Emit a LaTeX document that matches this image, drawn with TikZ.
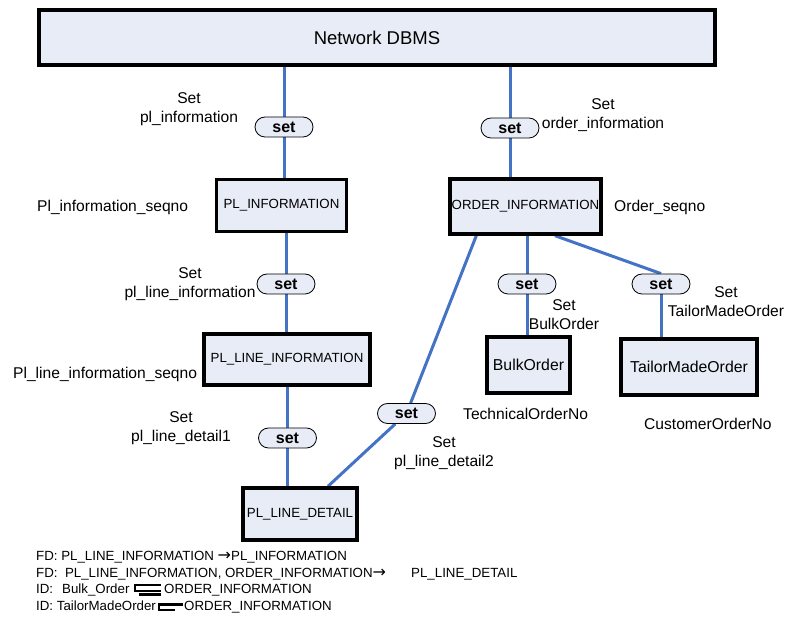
\documentclass[tikz,border=0pt]{standalone}
\usepackage{fontspec}
\setmainfont{Liberation Sans}
\newfontfamily\arrowfont{DejaVu Sans}
\usetikzlibrary{shapes.misc}
\pgfdeclarelayer{bg}
\pgfsetlayers{bg,main}
\definecolor{boxfill}{RGB}{231,236,246}
\definecolor{linkblue}{RGB}{68,114,196}
\begin{document}
\begin{tikzpicture}[x=1pt,y=-1pt,
  entity/.style={draw=black, line width=3.4pt, fill=boxfill, inner sep=0pt, font=\fontsize{13.3}{16}\selectfont},
  bigentity/.style={entity, font=\fontsize{15.8}{18}\selectfont},
  setnode/.style={rounded rectangle, draw=black, line width=0.8pt, fill=boxfill, minimum width=58pt, minimum height=20pt, inner sep=0pt, font=\bfseries\fontsize{16}{18}\selectfont},
  lbl/.style={align=center, anchor=north, inner sep=0pt, font=\fontsize{15.6}{19}\selectfont},
  slbl/.style={anchor=west, inner sep=0pt, font=\fontsize{15.6}{19}\selectfont},
  note/.style={anchor=base west, inner sep=0pt, font=\fontsize{13.3}{15}\selectfont},
  link/.style={draw=linkblue, line width=3pt},
  idmark/.style={line width=2.4pt}]
\useasboundingbox (0,0) rectangle (788,617);

% entities
\node[entity, minimum width=676pt, minimum height=55pt, font=\fontsize{18.5}{21}\selectfont] (dbms) at (377,37.5) {Network DBMS};
\node[entity, minimum width=130pt, minimum height=52pt] (plinfo) at (281.5,205.5) {PL\_INFORMATION};
\node[entity, minimum width=151pt, minimum height=55pt] (order) at (525.5,206.5) {ORDER\_INFORMATION};
\node[entity, minimum width=166pt, minimum height=51pt] (plline) at (287,359.5) {PL\_LINE\_INFORMATION};
\node[entity, minimum width=114pt, minimum height=52pt] (pldetail) at (300,514) {PL\_LINE\_DETAIL};
\node[bigentity, minimum width=83pt, minimum height=56pt] (bulk) at (528.5,365) {BulkOrder};
\node[bigentity, minimum width=136pt, minimum height=56pt] (tailor) at (689,367) {TailorMadeOrder};

% set nodes
\node[setnode] (set1) at (284,127) {set};
\node[setnode] (set2) at (510,128) {set};
\node[setnode] (set3) at (286,284) {set};
\node[setnode] (set4) at (287.5,438) {set};
\node[setnode] (set5) at (406.5,413.5) {set};
\node[setnode] (set6) at (527,284) {set};
\node[setnode] (set7) at (661,284) {set};

% connectors
\begin{pgfonlayer}{bg}
\draw[link] (set1.north |- dbms.south) -- (set1.north);
\draw[link] (set1.south) -- (set1.south |- plinfo.north);
\draw[link] (set2.north |- dbms.south) -- (set2.north);
\draw[link] (set2.south) -- (set2.south |- order.north);
\draw[link] (set3.north |- plinfo.south) -- (set3.north);
\draw[link] (set3.south) -- (set3.south |- plline.north);
\draw[link] (set4.north |- plline.south) -- (set4.north);
\draw[link] (set4.south) -- (set4.south |- pldetail.north);
\draw[link] ([xshift=28pt]order.south west) -- (set5);
\draw[link] (set5) -- ([xshift=28pt]pldetail.north);
\draw[link] (set6.north |- order.south) -- (set6.north);
\draw[link] (set6.south) -- (set6.south |- bulk.north);
\draw[link] ([xshift=29.5pt]order.south) -- (set7.north);
\draw[link] (set7.south) -- (set7.south |- tailor.north);
\end{pgfonlayer}

% set labels
\node[lbl] (l1) at (189,92.3) {Set\\pl\_information};
\node[lbl] (l2) at (603,98.3) {Set\\order\_information};
\node[lbl] (l3) at (190,267.3) {Set\\pl\_line\_information};
\node[lbl] (l4) at (181,411.3) {Set\\pl\_line\_detail1};
\node[lbl] (l5) at (444,436.3) {Set\\pl\_line\_detail2};
\node[lbl] (l6) at (564,299.3) {Set\\BulkOrder};
\node[lbl] (l7) at (726,286.3) {Set\\TailorMadeOrder};

% key labels
\node[slbl] (k1) at (37,207) {Pl\_information\_seqno};
\node[slbl] (k2) at (614,207) {Order\_seqno};
\node[slbl] (k3) at (13,374) {Pl\_line\_information\_seqno};
\node[slbl] (k4) at (463,414) {TechnicalOrderNo};
\node[slbl] (k5) at (644,424) {CustomerOrderNo};

% dependencies
\node[note] (fd1) at (36,561) {FD: PL\_LINE\_INFORMATION {\arrowfont\fontsize{16}{16}\selectfont →}PL\_INFORMATION};
\node[note] (fd2) at (36,578) {FD:\ \ PL\_LINE\_INFORMATION, ORDER\_INFORMATION{\arrowfont\fontsize{16}{16}\selectfont →}};
\node[note] (fd2b) at (411,578) {PL\_LINE\_DETAIL};
\node[note] (id1) at (36,594) {ID:\hspace{9pt}Bulk\_Order};
\node[note] (id1b) at (164,594) {ORDER\_INFORMATION};
\node[note] (id2) at (36,611) {ID: TailorMadeOrder};
\node[note] (id2b) at (184,611) {ORDER\_INFORMATION};
\coordinate (m1) at (161,585);
\coordinate (m2) at (183,604.5);
\draw[idmark] (m1) -- ++(-26,0) -- ++(0,6) -- ++(26,0);
\draw[idmark] ([yshift=-9.5pt]m1) -- ++(-22,0);
\draw[idmark] (m2) -- ++(-24,0) -- ++(0,5.5) -- ++(16,0);
\end{tikzpicture}
\end{document}
